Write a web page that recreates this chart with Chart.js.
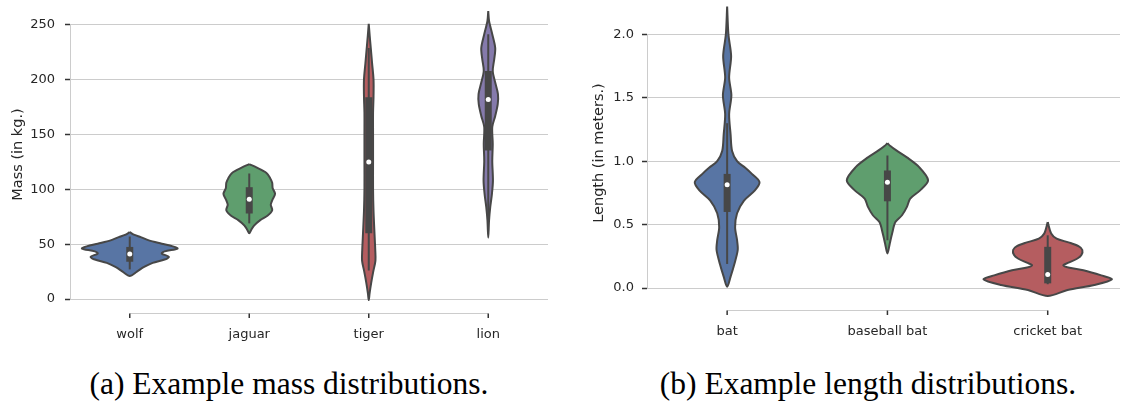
<!DOCTYPE html>
<html>
<head>
<meta charset="utf-8">
<script src="https://cdn.jsdelivr.net/npm/chart.js@4/dist/chart.umd.min.js"></script>
<style>
  html, body { margin:0; padding:0; background:#fff; width:1124px; height:406px; overflow:hidden; }
  #wrapA { position:absolute; left:0; top:0; width:560px; height:350px; }
  #wrapB { position:absolute; left:560px; top:0; width:564px; height:350px; }
  .cap { position:absolute; top:366px; font-family:"Liberation Serif", serif; font-size:31.5px; color:#000; white-space:nowrap; transform:translateX(-50%); }
</style>
</head>
<body>
<div id="wrapA"><canvas id="cA" width="560" height="350"></canvas></div>
<div id="wrapB"><canvas id="cB" width="564" height="350"></canvas></div>
<div class="cap" style="left:289px">(a) Example mass distributions.</div>
<div class="cap" style="left:868px">(b) Example length distributions.</div>
<script>
// ---------- Data: (a) mass ----------
const categoriesA = ['wolf', 'jaguar', 'tiger', 'lion'];
const yTicksA = [0, 50, 100, 150, 200, 250];
const wolfValues   = [61, 58.5, 56.5, 53.5, 50.5, 48, 46, 43.5, 41.5, 38.5, 36, 33, 29, 25, 21];
const wolfDensity  = [0, .10, .23, .40, .67, .90, 1.0, .73, .67, .82, .73, .48, .29, .15, 0];
const jaguarValues  = [123, 120, 115, 110, 106, 101, 96, 90, 86, 81, 76, 72, 67, 63, 60];
const jaguarDensity = [0, .15, .36, .44, .48, .49, .54, .48, .45, .48, .38, .23, .10, .04, 0];
const tigerValues  = [251, 240, 230, 215, 200, 185, 170, 150, 125, 100, 80, 60, 45, 35, 25, 15, 5, -1];
const tigerDensity = [0, .02, .04, .07, .10, .10, .09, .09, .09, .09, .10, .12, .136, .14, .094, .052, .017, 0];
const lionValues  = [262.7, 253.6, 241.5, 229, 219, 208, 197.5, 187, 178, 167, 157, 141.5, 126, 108, 96, 84, 72, 56];
const lionDensity = [0, .017, .084, .146, .126, .094, .146, .203, .199, .146, .084, .094, .084, .098, .077, .042, .017, 0];
const boxLowA    = [34, 78, 60, 135.5];
const boxHighA   = [47.5, 102, 184, 208];
const whiskLowA  = [27, 69, 26, 75];
const whiskHighA = [57, 114.5, 229, 241.5];
const medianA    = [41, 91, 125, 182];

// ---------- Data: (b) length ----------
const categoriesB = ['bat', 'baseball bat', 'cricket bat'];
const yTicksB = [0, 0.5, 1.0, 1.5, 2.0];
const batValues  = [2.22, 2.0, 1.83, 1.66, 1.52, 1.37, 1.21, 1.08, 1.0, 0.95, 0.90, 0.835, 0.77, 0.69, 0.59, 0.48, 0.377, 0.30, 0.19, 0.09, 0.01];
const batDensity = [0, .02, .062, .031, .066, .031, .054, .077, .155, .278, .386, .505, .433, .263, .155, .124, .155, .165, .113, .054, 0];
const baseballValues  = [1.142, 1.12, 1.085, 1.03, 0.953, 0.85, 0.77, 0.705, 0.64, 0.574, 0.52, 0.43, 0.35, 0.272];
const baseballDensity = [0, .046, .139, .304, .495, .634, .51, .355, .304, .227, .124, .073, .036, 0];
const cricketValues  = [0.52, 0.43, 0.39, 0.36, 0.33, 0.30, 0.26, 0.233, 0.20, 0.18, 0.16, 0.141, 0.10, 0.068, 0.024, -0.016, -0.063];
const cricketDensity = [0, .054, .139, .325, .48, .54, .525, .464, .325, .243, .34, .556, .835, 1.0, .726, .309, 0];
const boxLowB    = [0.60, 0.684, 0.037];
const boxHighB   = [0.90, 0.927, 0.325];
const whiskLowB  = [0.19, 0.377, 0.03];
const whiskHighB = [1.3, 1.045, 0.416];
const medianB    = [0.815, 0.835, 0.107];

// ---------- Styles ----------
const COLORS = ['#5875a4', '#5f9e6e', '#b55d60', '#857aab'];
const COLORS_B = ['#5875a4', '#5f9e6e', '#b55d60'];
const GRAY = '#474747';
const HALF_WIDTH = 0.4;
const TICK_FONT = { family: 'DejaVu Sans', size: 13 };
const TITLE_FONT = { family: 'DejaVu Sans', size: 14.5 };

function violinShape(center, values, density) {
  const pts = [];
  for (let i = 0; i < values.length; i++) pts.push({ x: center + density[i] * HALF_WIDTH, y: values[i] });
  for (let i = values.length - 2; i >= 0; i--) pts.push({ x: center - density[i] * HALF_WIDTH, y: values[i] });
  return pts;
}

function buildDatasets(violins, colors, bl, bh, wl, wh, med) {
  const ds = [];
  violins.forEach((v, i) => {
    ds.push({ data: violinShape(i, v[0], v[1]), showLine: true, fill: 'shape',
      backgroundColor: colors[i], borderColor: GRAY, borderWidth: 2, pointRadius: 0,
      tension: 0.3, order: 3, borderJoinStyle: 'round' });
    ds.push({ data: [{ x: i, y: wl[i] }, { x: i, y: wh[i] }], showLine: true, fill: false,
      borderColor: GRAY, borderWidth: 2, pointRadius: 0, order: 2, borderCapStyle: 'butt' });
    ds.push({ data: [{ x: i, y: bl[i] }, { x: i, y: bh[i] }], showLine: true, fill: false,
      borderColor: GRAY, borderWidth: 7, pointRadius: 0, order: 1, borderCapStyle: 'butt' });
  });
  ds.push({ data: med.map((m, i) => ({ x: i, y: m })), showLine: false, pointRadius: 2.5,
    pointBackgroundColor: '#ffffff', pointBorderWidth: 0, order: 0 });
  return ds;
}

const spinePlugin = {
  id: 'spines',
  beforeDatasetsDraw(chart, args, o) {
    const { ctx, chartArea, scales: { x, y } } = chart;
    ctx.save();
    ctx.strokeStyle = '#cccccc';
    ctx.lineWidth = 1;
    const lx = Math.round(chartArea.left) + 0.5;
    ctx.beginPath();
    ctx.moveTo(lx, y.getPixelForValue(o.yTicks[0]));
    ctx.lineTo(lx, y.getPixelForValue(o.yTicks[o.yTicks.length - 1]));
    ctx.stroke();
    const by = Math.round(chartArea.bottom + o.offset) + 0.5;
    ctx.beginPath();
    ctx.moveTo(x.getPixelForValue(0), by);
    ctx.lineTo(x.getPixelForValue(o.cats.length - 1), by);
    ctx.stroke();
    ctx.strokeStyle = '#333333';
    ctx.lineWidth = 1.5;
    o.cats.forEach((c, i) => {
      const px = x.getPixelForValue(i);
      ctx.beginPath();
      ctx.moveTo(px, by);
      ctx.lineTo(px, by + 4.5);
      ctx.stroke();
    });
    ctx.restore();
  }
};

function makeChart(id, cfg) {
  return new Chart(document.getElementById(id), {
    type: 'scatter',
    data: { datasets: cfg.datasets },
    plugins: [spinePlugin],
    options: {
      responsive: false, animation: false, events: [],
      layout: { padding: { top: 3, right: cfg.padRight, left: 0, bottom: 0 } },
      plugins: { legend: { display: false }, tooltip: { enabled: false },
        spines: { yTicks: cfg.yTicks, cats: cfg.cats, offset: 8 } },
      scales: {
        x: {
          type: 'linear', min: -0.5, max: cfg.xMax,
          afterBuildTicks: s => { s.ticks = cfg.cats.map((c, i) => ({ value: i })); },
          afterFit: s => { s.height = cfg.xHeight; s.paddingLeft = 0; s.paddingRight = 0; s.paddingTop = 0; s.paddingBottom = 0; },
          grid: { display: false, drawTicks: false }, border: { display: false },
          ticks: { padding: 22, color: '#262626', font: TICK_FONT, maxRotation: 0, autoSkip: false,
            callback: v => cfg.cats[v] }
        },
        y: {
          type: 'linear', min: cfg.yMin, max: cfg.yMax,
          afterBuildTicks: s => { s.ticks = cfg.yTicks.map(v => ({ value: v })); },
          afterFit: s => { s.width = cfg.yWidth; s.paddingTop = 0; s.paddingBottom = 0; s.paddingLeft = 0; s.paddingRight = 0; },
          grid: { color: '#cccccc', lineWidth: 1, tickColor: '#333333', tickLength: 5, tickWidth: 1.5, drawTicks: true },
          border: { display: false },
          ticks: { padding: cfg.yPad, color: '#262626', font: TICK_FONT, callback: cfg.fmt },
          title: { display: true, text: cfg.title, color: '#262626', font: TITLE_FONT,
            padding: { top: cfg.titlePad, bottom: 0 } }
        }
      }
    }
  });
}

makeChart('cA', {
  datasets: buildDatasets([[wolfValues, wolfDensity], [jaguarValues, jaguarDensity], [tigerValues, tigerDensity], [lionValues, lionDensity]],
    COLORS, boxLowA, boxHighA, whiskLowA, whiskHighA, medianA),
  cats: categoriesA, yTicks: yTicksA, yMin: -5.45, yMax: 269.1, xMax: 3.5,
  padRight: 12, xHeight: 45, yWidth: 70, yPad: 10, titlePad: 10,
  title: 'Mass (in kg.)', fmt: v => String(v)
});

makeChart('cB', {
  datasets: buildDatasets([[batValues, batDensity], [baseballValues, baseballDensity], [cricketValues, cricketDensity]],
    COLORS_B, boxLowB, boxHighB, whiskLowB, whiskHighB, medianB),
  cats: categoriesB, yTicks: yTicksB, yMin: -0.110, yMax: 2.2397, xMax: 2.451,
  padRight: 0, xHeight: 48, yWidth: 87, yPad: 8, titlePad: 31,
  title: 'Length (in meters.)', fmt: v => Number(v).toFixed(1)
});
</script>
</body>
</html>
